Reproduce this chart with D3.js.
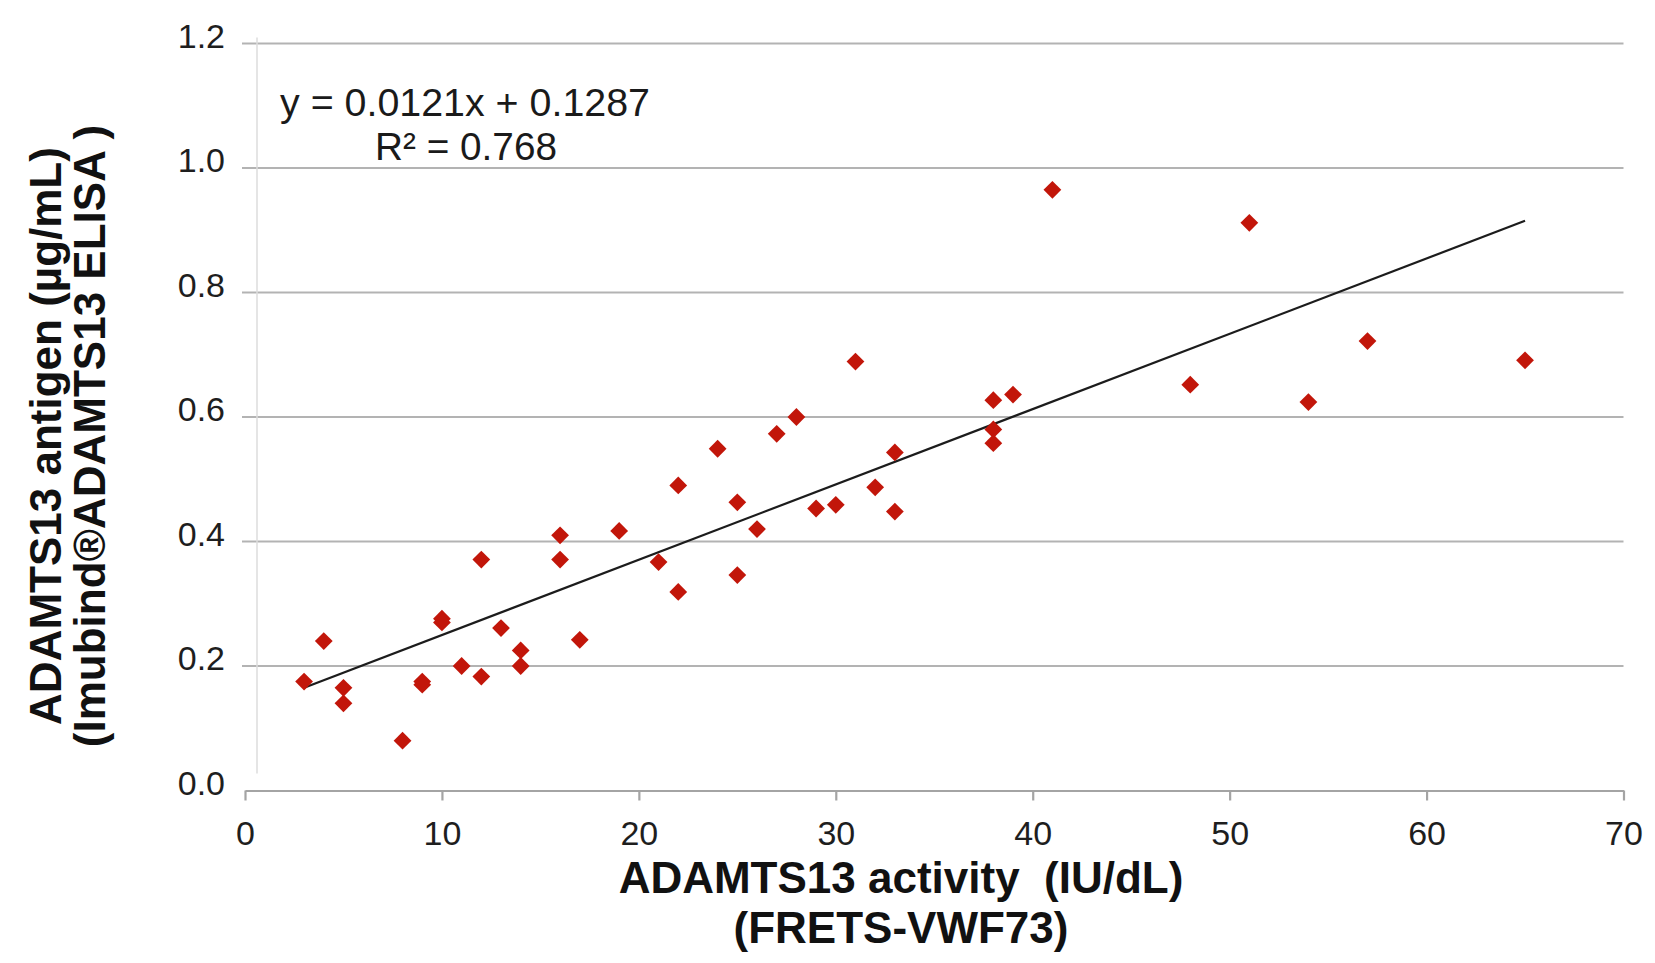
<!DOCTYPE html>
<meta charset="utf-8">
<style>

body {
  margin: 0;
  background: #fff;
}

text {
  font-family: "Liberation Sans", Arial, sans-serif;
}

.tick text {
  font-size: 34px;
  fill: #1e1e1e;
}

.title {
  font-size: 44px;
  font-weight: bold;
  fill: #111;
  white-space: pre;
}

.eq {
  font-size: 39px;
  fill: #1a1a1a;
}

</style>
<body>
<script src="https://cdnjs.cloudflare.com/ajax/libs/d3/7.8.5/d3.min.js"></script>
<script>

// ADAMTS13 activity (IU/dL) vs antigen (ug/mL), one point per sample
var activity = [3, 4, 5, 5, 8, 9, 9, 10, 10, 11,
                12, 12, 13, 14, 14, 16, 16, 17, 19, 21,
                22, 22, 24, 25, 25, 26, 27, 28, 29, 30,
                31, 32, 33, 33, 38, 38, 38, 39, 41, 48,
                51, 54, 57, 65];

var antigen = [0.175, 0.24, 0.165, 0.14, 0.08, 0.175, 0.17, 0.276, 0.27, 0.2,
               0.371, 0.183, 0.261, 0.225, 0.2, 0.41, 0.371, 0.242, 0.417, 0.367,
               0.49, 0.319, 0.549, 0.463, 0.346, 0.42, 0.573, 0.6, 0.453, 0.459,
               0.689, 0.487, 0.543, 0.448, 0.627, 0.58, 0.558, 0.636, 0.965, 0.652,
               0.912, 0.624, 0.722, 0.691];

// linear fit as printed on the chart
var slope = 0.0121,
    intercept = 0.1287,
    rSquared = 0.768;

var xTicks = [0, 10, 20, 30, 40, 50, 60, 70],
    yTicks = [0, 0.2, 0.4, 0.6, 0.8, 1.0, 1.2];

var xTitle = ["ADAMTS13 activity  (IU/dL)", "(FRETS-VWF73)"],
    yTitle = ["ADAMTS13 antigen (\u00b5g/mL)", "(Imubind\u00aeADAMTS13 ELISA )"];

var width = 1655,
    height = 963;

var x = d3.scaleLinear().domain([0, 70]).range([245, 1623.5]);
var y = d3.scaleLinear().domain([0, 1.2]).range([790.5, 43.5]);

var svg = d3.select("body").append("svg")
    .attr("width", width)
    .attr("height", height);

// horizontal gridlines
svg.append("g")
  .selectAll("line")
    .data(yTicks.filter(function(d) { return d > 0; }))
  .enter().append("line")
    .attr("x1", x(0) - 3)
    .attr("x2", x(70))
    .attr("y1", function(d) { return y(d); })
    .attr("y2", function(d) { return y(d); })
    .attr("stroke", "#b3b3b3")
    .attr("stroke-width", 2.2);

// faint vertical axis line (sits a little right of zero in the original)
svg.append("line")
    .attr("x1", x(0) + 12)
    .attr("x2", x(0) + 12)
    .attr("y1", y(1.2) - 6)
    .attr("y2", y(0) - 17)
    .attr("stroke", "#dcdcdc")
    .attr("stroke-width", 1.5);

// x axis
var xAxis = svg.append("g")
    .attr("transform", "translate(0," + y(0) + ")")
    .call(d3.axisBottom(x).tickValues(xTicks).tickSize(10).tickSizeOuter(0));

xAxis.select(".domain")
    .attr("stroke", "#a4a4a4")
    .attr("stroke-width", 2.2);
xAxis.selectAll(".tick line")
    .attr("stroke", "#a4a4a4")
    .attr("stroke-width", 2.2);
xAxis.selectAll(".tick text")
    .attr("dy", null)
    .attr("y", 54);

// y axis labels only
var yAxis = svg.append("g")
    .attr("transform", "translate(" + x(0) + ",0)")
    .call(d3.axisLeft(y).tickValues(yTicks).tickSize(0).tickFormat(d3.format(".1f")));

yAxis.select(".domain").remove();
yAxis.selectAll(".tick text")
    .attr("dy", null)
    .attr("x", -20)
    .attr("y", 3.5);

// trendline over the range of the data
var xr = d3.extent(activity);
svg.append("line")
    .attr("x1", x(xr[0]))
    .attr("y1", y(slope * xr[0] + intercept))
    .attr("x2", x(xr[1]))
    .attr("y2", y(slope * xr[1] + intercept))
    .attr("stroke", "#1c1c1c")
    .attr("stroke-width", 2.2);

// diamond markers
var diamond = d3.symbol().type(d3.symbolSquare).size(158);

svg.append("g")
  .selectAll("path")
    .data(activity)
  .enter().append("path")
    .attr("d", diamond)
    .attr("transform", function(d, i) {
      return "translate(" + x(d) + "," + y(antigen[i]) + ") rotate(45)";
    })
    .attr("fill", "#c2160a");

// regression equation
svg.append("text")
    .attr("class", "eq")
    .attr("x", 280)
    .attr("y", 116)
    .attr("textLength", 370)
    .attr("lengthAdjust", "spacingAndGlyphs")
    .text("y = " + slope + "x + " + intercept);

svg.append("text")
    .attr("class", "eq")
    .attr("x", 375)
    .attr("y", 160)
    .attr("textLength", 182)
    .attr("lengthAdjust", "spacingAndGlyphs")
    .text("R\u00b2 = " + rSquared);

// axis titles
svg.selectAll(".xtitle")
    .data(xTitle)
  .enter().append("text")
    .attr("class", "title")
    .attr("text-anchor", "middle")
    .attr("x", 901)
    .attr("y", function(d, i) { return 893 + i * 50; })
    .text(function(d) { return d; });

svg.selectAll(".ytitle")
    .data(yTitle)
  .enter().append("text")
    .attr("class", "title")
    .attr("text-anchor", "middle")
    .attr("transform", function(d, i) {
      return "translate(" + (61 + i * 44) + ",436) rotate(-90)";
    })
    .text(function(d) { return d; });

</script>
